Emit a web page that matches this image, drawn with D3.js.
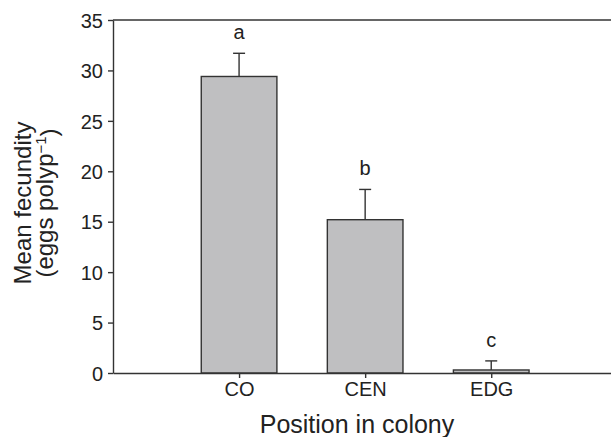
<!DOCTYPE html>
<html>
<head>
<meta charset="utf-8">
<script src="https://cdn.jsdelivr.net/npm/d3@7"></script>
<style>
  body { margin: 0; background: #fff; }
  svg text { font-family: "Liberation Sans", Arial, Helvetica, sans-serif; fill: #222; }
</style>
</head>
<body>
<div id="chart"></div>
<script>
// data
const positions = ["CO", "CEN", "EDG"];
const meanFecundity = [29.4, 15.2, 0.3];
const errUpper = [31.7, 18.2, 1.2];
const sigLetters = ["a", "b", "c"];
const yTicks = [0, 5, 10, 15, 20, 25, 30, 35];

const W = 611, H = 437;
const margin = {top: 20, left: 113, bottom: 64};

const svg = d3.select("#chart").append("svg")
    .attr("width", W)
    .attr("height", H);

// x as a linear position scale (1, 2, 3) so the frame runs past the last bar
let x = d3.scaleLinear()
    .domain([0, 3.95])
    .range([margin.left, W]);

let y = d3.scaleLinear()
    .domain([0, 35])
    .range([H - margin.bottom, margin.top]);

const barW = x(0.6) - x(0);
const ink = "#333";

// bars
svg.append("g").selectAll("rect")
    .data(meanFecundity)
    .enter()
    .append("rect")
    .attr("x", (d, i) => x(i + 1) - barW / 2)
    .attr("y", d => y(d))
    .attr("width", barW)
    .attr("height", d => y(0) - y(d))
    .attr("fill", "#bfbfc1")
    .attr("stroke", ink)
    .attr("stroke-width", 1.4);

// error bars (upper only)
let errG = svg.append("g").attr("stroke", ink).attr("stroke-width", 1.4);
errUpper.forEach(function(e, i) {
    errG.append("line")
        .attr("x1", x(i + 1)).attr("x2", x(i + 1))
        .attr("y1", y(meanFecundity[i])).attr("y2", y(e));
    errG.append("line")
        .attr("x1", x(i + 1) - 6).attr("x2", x(i + 1) + 6)
        .attr("y1", y(e)).attr("y2", y(e));
});

// significance letters
svg.append("g").selectAll("text")
    .data(sigLetters)
    .enter()
    .append("text")
    .attr("x", (d, i) => x(i + 1))
    .attr("y", (d, i) => y(errUpper[i]) - 14)
    .attr("text-anchor", "middle")
    .style("font-size", "20px")
    .text(d => d);

// y axis
let yAxis = svg.append("g")
    .attr("transform", `translate(${margin.left},0)`)
    .call(d3.axisLeft(y).tickValues(yTicks).tickSize(5).tickSizeOuter(0).tickPadding(5));
yAxis.selectAll("text").style("font-size", "20px").attr("dy", "0.36em");

// x axis
let xAxis = svg.append("g")
    .attr("transform", `translate(0,${y(0)})`)
    .call(d3.axisBottom(x).tickValues([1, 2, 3]).tickSize(5).tickSizeOuter(0).tickPadding(4)
        .tickFormat(d => positions[d - 1]));
xAxis.selectAll("text").style("font-size", "20px");

// top frame line
svg.append("line")
    .attr("x1", margin.left).attr("x2", W)
    .attr("y1", y(35)).attr("y2", y(35))
    .attr("stroke", ink).attr("stroke-width", 1.4);

svg.selectAll(".domain, .tick line").attr("stroke", ink).attr("stroke-width", 1.4);

// axis titles
svg.append("text")
    .attr("x", 357)
    .attr("y", 433)
    .attr("text-anchor", "middle")
    .style("font-size", "25px")
    .text("Position in colony");

let yTitle = svg.append("text")
    .attr("transform", "translate(0,203) rotate(-90)")
    .attr("text-anchor", "middle")
    .style("font-size", "24px");
yTitle.append("tspan").attr("x", 0).attr("y", 31).text("Mean fecundity");
let l2 = yTitle.append("tspan").attr("x", 0).attr("y", 53);
l2.append("tspan").text("(eggs polyp");
l2.append("tspan").attr("dy", "-0.45em").style("font-size", "15px").text("−1");
l2.append("tspan").attr("dy", "0.45em").text(")");
</script>
</body>
</html>
